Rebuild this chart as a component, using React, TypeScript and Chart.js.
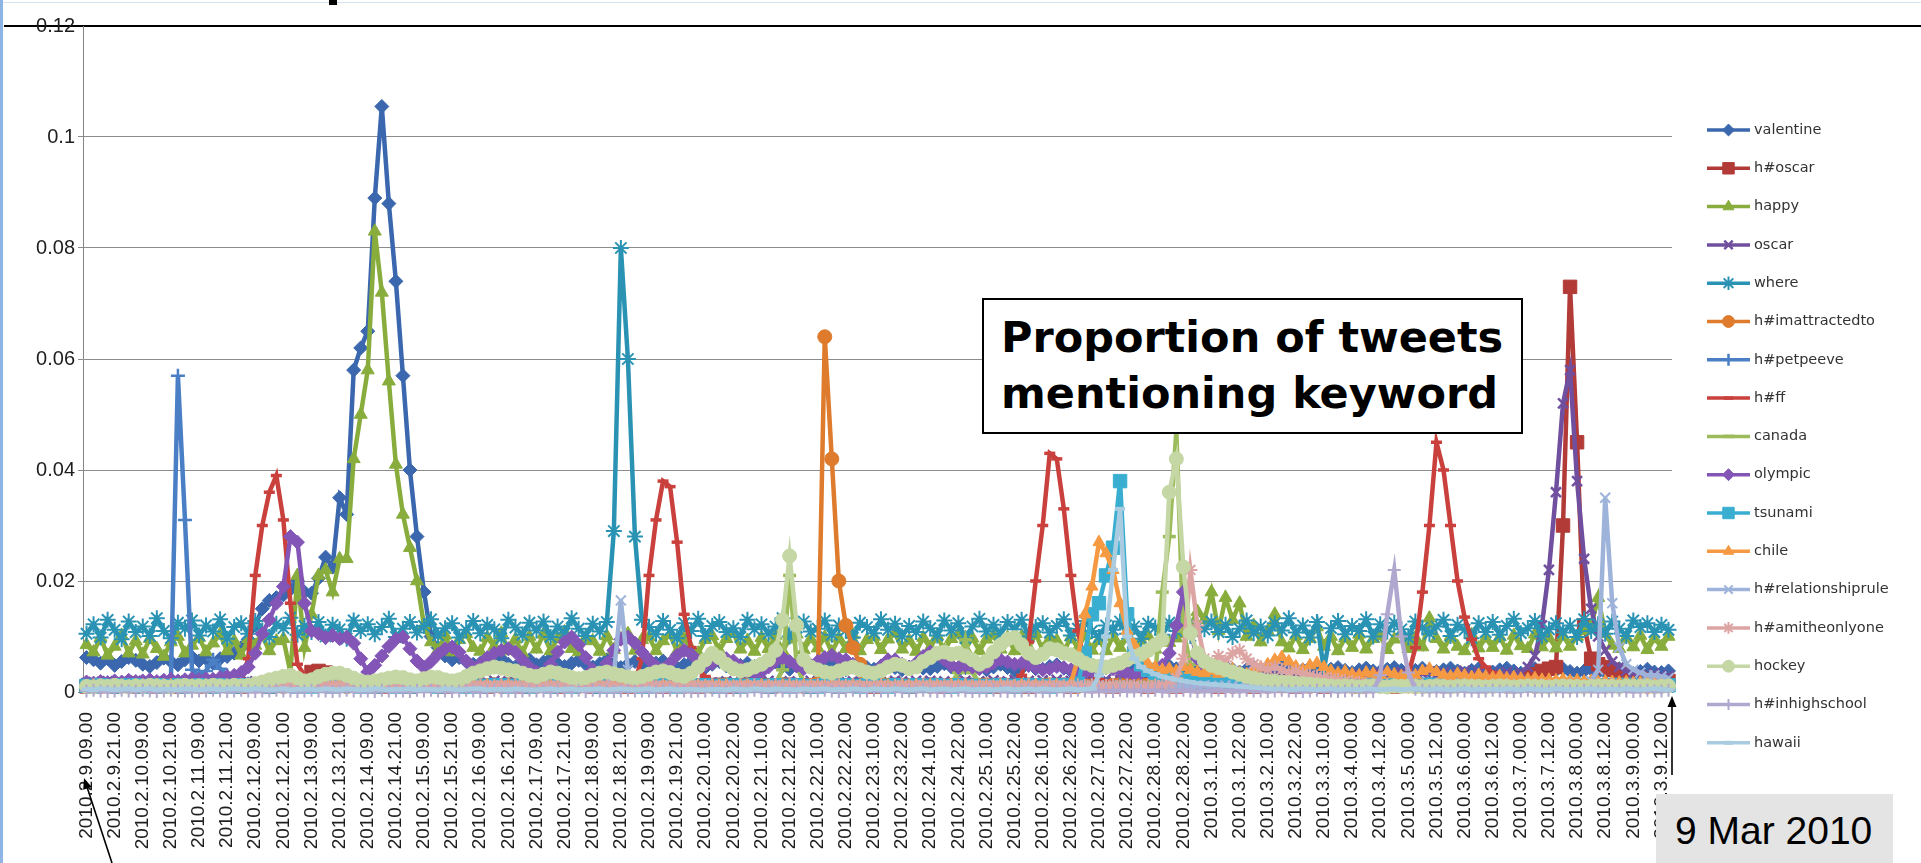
import React, { useEffect, useRef } from "react";
import { Chart, registerables } from "chart.js";
import { drawPoint } from "chart.js/helpers";

Chart.register(...registerables);

// ---------------- DATA ----------------
const TICK_LABELS = [
  "2010.2.9.09.00", "2010.2.9.21.00", "2010.2.10.09.00", "2010.2.10.21.00",
  "2010.2.11.09.00", "2010.2.11.21.00", "2010.2.12.09.00", "2010.2.12.21.00",
  "2010.2.13.09.00", "2010.2.13.21.00", "2010.2.14.09.00", "2010.2.14.21.00",
  "2010.2.15.09.00", "2010.2.15.21.00", "2010.2.16.09.00", "2010.2.16.21.00",
  "2010.2.17.09.00", "2010.2.17.21.00", "2010.2.18.09.00", "2010.2.18.21.00",
  "2010.2.19.09.00", "2010.2.19.21.00", "2010.2.20.10.00", "2010.2.20.22.00",
  "2010.2.21.10.00", "2010.2.21.22.00", "2010.2.22.10.00", "2010.2.22.22.00",
  "2010.2.23.10.00", "2010.2.23.22.00", "2010.2.24.10.00", "2010.2.24.22.00",
  "2010.2.25.10.00", "2010.2.25.22.00", "2010.2.26.10.00", "2010.2.26.22.00",
  "2010.2.27.10.00", "2010.2.27.22.00", "2010.2.28.10.00", "2010.2.28.22.00",
  "2010.3.1.10.00", "2010.3.1.22.00", "2010.3.2.10.00", "2010.3.2.22.00",
  "2010.3.3.10.00", "2010.3.4.00.00", "2010.3.4.12.00", "2010.3.5.00.00",
  "2010.3.5.12.00", "2010.3.6.00.00", "2010.3.6.12.00", "2010.3.7.00.00",
  "2010.3.7.12.00", "2010.3.8.00.00", "2010.3.8.12.00", "2010.3.9.00.00",
  "2010.3.9.12.00",
];
const POINTS_PER_TICK = 4; // one reading every 3 hours

const Y_MAX = 0.12;
const Y_STEP = 0.02;

const VALENTINE = [
  .0062,.0058,.0052,.0060,.0048,.0055,.0062,.0057,
  .0050,.0046,.0053,.0061,.0055,.0049,.0058,.0063,
  .0056,.0060,.0052,.0060,.0064,.0070,.0080,.0095,
  .0120,.0150,.0165,.0170,.0175,.0185,.0200,.0180,
  .0178,.0205,.0243,.0225,.0350,.0320,.0580,.0620,
  .0650,.0890,.1055,.0880,.0740,.0570,.0400,.0280,
  .0180,.0100,.0080,.0065,.0058,.0062,.0055,.0050,
  .0052,.0047,.0055,.0060,.0050,.0045,.0053,.0058,
  .0049,.0054,.0060,.0051,.0046,.0052,.0057,.0050,
  .0045,.0051,.0058,.0049,.0044,.0050,.0055,.0048,
  .0046,.0052,.0056,.0049,.0043,.0049,.0054,.0047,
  .0044,.0050,.0055,.0047,.0042,.0048,.0052,.0046,
  .0043,.0049,.0054,.0046,.0041,.0047,.0051,.0045,
  .0042,.0048,.0053,.0045,.0040,.0046,.0050,.0044,
  .0041,.0047,.0052,.0044,.0040,.0045,.0049,.0043,
  .0042,.0046,.0051,.0045,.0039,.0044,.0050,.0043,
  .0040,.0045,.0050,.0044,.0039,.0043,.0048,.0042,
  .0041,.0046,.0049,.0043,.0038,.0044,.0047,.0041,
  .0040,.0044,.0048,.0042,.0038,.0043,.0046,.0041,
  .0039,.0043,.0047,.0042,.0037,.0042,.0046,.0040,
  .0038,.0042,.0046,.0041,.0036,.0041,.0045,.0040,
  .0039,.0043,.0045,.0040,.0036,.0040,.0044,.0039,
  .0038,.0041,.0044,.0039,.0035,.0040,.0043,.0038,
  .0037,.0041,.0044,.0039,.0035,.0039,.0043,.0038,
  .0037,.0040,.0043,.0038,.0034,.0039,.0042,.0037,
  .0036,.0040,.0043,.0038,.0034,.0038,.0042,.0037,
  .0036,.0039,.0042,.0037,.0034,.0038,.0041,.0036,
  .0035,.0039,.0042,.0037,.0033,.0037,.0041,.0036,
  .0035,.0038,
];

const H_OSCAR = [
  .0010,.0012,.0011,.0013,.0010,.0012,.0011,.0010,
  .0011,.0013,.0010,.0012,.0011,.0010,.0012,.0011,
  .0012,.0010,.0011,.0013,.0012,.0011,.0010,.0012,
  .0011,.0012,.0010,.0011,.0013,.0012,.0014,.0020,
  .0036,.0038,.0035,.0018,.0012,.0011,.0013,.0012,
  .0011,.0012,.0010,.0013,.0011,.0012,.0010,.0011,
  .0012,.0011,.0013,.0010,.0012,.0011,.0012,.0013,
  .0011,.0010,.0012,.0011,.0013,.0012,.0010,.0011,
  .0012,.0013,.0011,.0010,.0012,.0011,.0013,.0012,
  .0010,.0011,.0012,.0013,.0011,.0010,.0012,.0011,
  .0013,.0012,.0010,.0011,.0012,.0013,.0011,.0010,
  .0011,.0012,.0013,.0011,.0010,.0012,.0011,.0013,
  .0012,.0010,.0011,.0012,.0013,.0011,.0012,.0010,
  .0011,.0013,.0012,.0010,.0011,.0012,.0013,.0011,
  .0010,.0012,.0011,.0013,.0012,.0010,.0011,.0012,
  .0013,.0011,.0010,.0012,.0011,.0013,.0012,.0011,
  .0012,.0010,.0013,.0011,.0012,.0011,.0010,.0012,
  .0011,.0012,.0011,.0013,.0010,.0012,.0013,.0011,
  .0012,.0011,.0010,.0012,.0013,.0011,.0012,.0010,
  .0013,.0012,.0011,.0010,.0012,.0013,.0011,.0012,
  .0011,.0010,.0012,.0013,.0011,.0012,.0010,.0011,
  .0012,.0013,.0011,.0012,.0010,.0011,.0013,.0012,
  .0010,.0012,.0013,.0011,.0012,.0010,.0011,.0013,
  .0012,.0011,.0010,.0012,.0011,.0013,.0012,.0011,
  .0013,.0012,.0011,.0013,.0012,.0011,.0012,.0013,
  .0014,.0016,.0018,.0020,.0024,.0028,.0032,.0038,
  .0042,.0045,.0300,.0730,.0450,.0120,.0060,.0050,
  .0045,.0040,.0034,.0030,.0027,.0024,.0022,.0021,
  .0020,.0020,
];

const HAPPY = [
  .0085,.0072,.0098,.0066,.0082,.0102,.0070,.0092,
  .0068,.0096,.0078,.0064,.0090,.0100,.0070,.0084,
  .0098,.0072,.0088,.0104,.0074,.0092,.0066,.0096,
  .0084,.0101,.0074,.0092,.0096,.0035,.0210,.0080,
  .0140,.0210,.0220,.0180,.0240,.0240,.0420,.0500,
  .0580,.0830,.0720,.0560,.0410,.0320,.0260,.0200,
  .0120,.0090,.0076,.0102,.0072,.0094,.0105,.0080,
  .0073,.0098,.0082,.0106,.0074,.0095,.0070,.0100,
  .0077,.0104,.0074,.0096,.0108,.0078,.0072,.0098,
  .0092,.0073,.0101,.0076,.0096,.0105,.0075,.0094,
  .0099,.0074,.0092,.0103,.0073,.0097,.0078,.0070,
  .0094,.0101,.0075,.0096,.0107,.0077,.0093,.0073,
  .0098,.0078,.0102,.0074,.0095,.0104,.0076,.0096,
  .0079,.0099,.0072,.0097,.0078,.0103,.0074,.0094,
  .0100,.0076,.0095,.0106,.0077,.0093,.0073,.0098,
  .0080,.0101,.0075,.0096,.0104,.0078,.0097,.0074,
  .0095,.0102,.0077,.0098,.0074,.0100,.0080,.0105,
  .0076,.0096,.0093,.0072,.0099,.0079,.0102,.0075,
  .0094,.0074,.0100,.0080,.0097,.0073,.0093,.0101,
  .0077,.0098,.0089,.0097,.0105,.0120,.0145,.0130,
  .0180,.0110,.0170,.0130,.0160,.0100,.0120,.0090,
  .0110,.0140,.0090,.0079,.0101,.0076,.0096,.0117,
  .0082,.0100,.0074,.0097,.0080,.0104,.0077,.0096,
  .0101,.0076,.0095,.0106,.0078,.0098,.0081,.0133,
  .0096,.0077,.0100,.0082,.0074,.0103,.0079,.0097,
  .0080,.0099,.0075,.0102,.0083,.0078,.0104,.0081,
  .0098,.0079,.0101,.0082,.0100,.0110,.0120,.0170,
  .0105,.0084,.0078,.0099,.0081,.0102,.0076,.0096,
  .0082,.0100,
];

const OSCAR = [
  .0016,.0018,.0015,.0019,.0017,.0016,.0018,.0020,
  .0017,.0015,.0019,.0018,.0016,.0020,.0017,.0015,
  .0018,.0016,.0020,.0017,.0019,.0015,.0018,.0016,
  .0019,.0017,.0015,.0018,.0020,.0016,.0017,.0019,
  .0016,.0019,.0017,.0015,.0018,.0020,.0016,.0018,
  .0020,.0016,.0018,.0019,.0015,.0017,.0019,.0016,
  .0017,.0020,.0016,.0018,.0017,.0015,.0019,.0018,
  .0015,.0018,.0020,.0016,.0019,.0018,.0016,.0017,
  .0019,.0016,.0017,.0020,.0016,.0018,.0015,.0019,
  .0018,.0015,.0019,.0017,.0020,.0016,.0018,.0017,
  .0016,.0019,.0018,.0015,.0017,.0020,.0017,.0016,
  .0020,.0017,.0016,.0019,.0018,.0016,.0020,.0018,
  .0017,.0020,.0018,.0016,.0019,.0017,.0015,.0020,
  .0019,.0016,.0020,.0018,.0016,.0019,.0018,.0017,
  .0016,.0018,.0017,.0020,.0019,.0016,.0020,.0018,
  .0020,.0017,.0019,.0016,.0018,.0020,.0017,.0019,
  .0018,.0021,.0017,.0019,.0022,.0018,.0020,.0017,
  .0021,.0019,.0022,.0018,.0020,.0023,.0019,.0021,
  .0020,.0023,.0019,.0022,.0024,.0020,.0022,.0025,
  .0022,.0025,.0021,.0024,.0026,.0022,.0025,.0023,
  .0026,.0022,.0025,.0028,.0024,.0027,.0023,.0026,
  .0028,.0024,.0027,.0030,.0025,.0029,.0026,.0024,
  .0022,.0026,.0030,.0024,.0028,.0032,.0026,.0030,
  .0034,.0028,.0032,.0036,.0030,.0026,.0033,.0037,
  .0031,.0035,.0029,.0034,.0038,.0032,.0036,.0030,
  .0034,.0030,.0036,.0032,.0035,.0045,.0065,.0120,
  .0220,.0360,.0520,.0580,.0380,.0240,.0150,.0100,
  .0075,.0055,.0045,.0038,.0034,.0032,.0030,.0033,
  .0030,.0029,
];

const WHERE = [
  .0105,.0122,.0098,.0130,.0112,.0095,.0127,.0108,
  .0118,.0101,.0133,.0110,.0097,.0125,.0114,.0129,
  .0102,.0120,.0109,.0131,.0096,.0117,.0124,.0105,
  .0128,.0111,.0099,.0123,.0115,.0134,.0103,.0119,
  .0108,.0126,.0100,.0121,.0113,.0096,.0129,.0110,
  .0122,.0104,.0117,.0132,.0099,.0114,.0126,.0107,
  .0119,.0131,.0102,.0115,.0124,.0098,.0112,.0128,
  .0106,.0121,.0113,.0097,.0130,.0116,.0103,.0125,
  .0111,.0127,.0099,.0118,.0106,.0133,.0114,.0101,
  .0123,.0109,.0126,.0290,.0800,.0600,.0280,.0130,
  .0117,.0104,.0128,.0112,.0097,.0124,.0110,.0132,
  .0101,.0119,.0126,.0108,.0115,.0099,.0130,.0113,
  .0122,.0105,.0118,.0133,.0100,.0116,.0127,.0109,
  .0114,.0129,.0103,.0120,.0111,.0098,.0125,.0117,
  .0106,.0131,.0112,.0123,.0100,.0119,.0108,.0127,
  .0115,.0102,.0129,.0111,.0124,.0097,.0118,.0132,
  .0109,.0121,.0104,.0126,.0113,.0130,.0100,.0117,
  .0124,.0107,.0119,.0131,.0102,.0114,.0128,.0110,
  .0099,.0120,.0112,.0127,.0105,.0118,.0096,.0123,
  .0116,.0103,.0125,.0110,.0130,.0101,.0119,.0113,
  .0127,.0108,.0121,.0099,.0114,.0129,.0106,.0118,
  .0102,.0124,.0111,.0133,.0107,.0120,.0098,.0126,
  .0040,.0115,.0128,.0104,.0119,.0110,.0131,.0100,
  .0122,.0109,.0125,.0113,.0098,.0127,.0116,.0105,
  .0118,.0130,.0101,.0121,.0112,.0097,.0124,.0108,
  .0126,.0103,.0119,.0132,.0106,.0115,.0128,.0100,
  .0113,.0124,.0107,.0120,.0099,.0131,.0110,.0122,
  .0105,.0127,.0114,.0101,.0129,.0117,.0124,.0108,
  .0121,.0112,
];

const IMATTRACTEDTO = [
  .0011,.0012,.0010,.0013,.0011,.0012,.0010,.0011,
  .0012,.0011,.0013,.0010,.0012,.0011,.0012,.0013,
  .0010,.0012,.0011,.0012,.0013,.0011,.0010,.0012,
  .0013,.0011,.0012,.0011,.0010,.0012,.0013,.0011,
  .0012,.0013,.0011,.0012,.0011,.0010,.0012,.0011,
  .0011,.0010,.0012,.0013,.0012,.0011,.0013,.0012,
  .0011,.0012,.0010,.0013,.0011,.0012,.0010,.0011,
  .0012,.0011,.0013,.0010,.0012,.0011,.0012,.0013,
  .0010,.0012,.0011,.0012,.0013,.0011,.0010,.0012,
  .0013,.0011,.0012,.0011,.0010,.0012,.0013,.0011,
  .0012,.0013,.0011,.0012,.0011,.0010,.0012,.0011,
  .0011,.0010,.0012,.0013,.0012,.0011,.0013,.0012,
  .0011,.0012,.0010,.0013,.0011,.0012,.0010,.0012,
  .0015,.0640,.0420,.0200,.0120,.0080,.0050,.0030,
  .0020,.0015,.0012,.0011,.0012,.0010,.0011,.0012,
  .0010,.0012,.0011,.0012,.0013,.0011,.0010,.0012,
  .0013,.0011,.0012,.0011,.0010,.0012,.0013,.0011,
  .0012,.0013,.0011,.0012,.0011,.0010,.0012,.0011,
  .0011,.0010,.0012,.0013,.0012,.0011,.0013,.0012,
  .0011,.0012,.0010,.0013,.0011,.0012,.0010,.0011,
  .0012,.0011,.0013,.0010,.0012,.0011,.0012,.0013,
  .0010,.0012,.0011,.0012,.0013,.0011,.0010,.0012,
  .0013,.0011,.0012,.0011,.0010,.0012,.0013,.0011,
  .0012,.0013,.0011,.0012,.0011,.0010,.0012,.0011,
  .0011,.0010,.0012,.0013,.0012,.0011,.0013,.0012,
  .0011,.0012,.0010,.0013,.0011,.0012,.0010,.0011,
  .0012,.0011,.0013,.0010,.0012,.0011,.0012,.0013,
  .0010,.0012,.0011,.0012,.0013,.0011,.0010,.0012,
  .0011,.0012,
];

const PETPEEVE = [
  .0010,.0011,.0012,.0010,.0011,.0013,.0012,.0011,
  .0012,.0011,.0013,.0012,.0020,.0570,.0310,.0040,
  .0030,.0038,.0058,.0042,.0030,.0022,.0018,.0015,
  .0013,.0011,.0012,.0011,.0010,.0012,.0013,.0011,
  .0012,.0013,.0011,.0012,.0011,.0010,.0012,.0011,
  .0011,.0010,.0012,.0013,.0012,.0011,.0013,.0012,
  .0011,.0012,.0010,.0013,.0011,.0012,.0010,.0011,
  .0012,.0011,.0013,.0010,.0012,.0011,.0012,.0013,
  .0010,.0012,.0011,.0012,.0013,.0011,.0010,.0012,
  .0013,.0011,.0012,.0011,.0010,.0012,.0013,.0011,
  .0012,.0013,.0011,.0012,.0011,.0010,.0012,.0011,
  .0011,.0010,.0012,.0013,.0012,.0011,.0013,.0012,
  .0011,.0012,.0010,.0013,.0011,.0012,.0010,.0011,
  .0012,.0011,.0013,.0010,.0012,.0011,.0012,.0013,
  .0010,.0012,.0011,.0012,.0013,.0011,.0010,.0012,
  .0013,.0011,.0012,.0011,.0010,.0012,.0013,.0011,
  .0012,.0013,.0011,.0012,.0011,.0010,.0012,.0011,
  .0011,.0010,.0012,.0013,.0012,.0011,.0013,.0012,
  .0011,.0012,.0010,.0013,.0011,.0012,.0010,.0011,
  .0012,.0011,.0013,.0010,.0012,.0011,.0012,.0013,
  .0010,.0012,.0011,.0012,.0013,.0011,.0010,.0012,
  .0013,.0011,.0012,.0011,.0010,.0012,.0013,.0011,
  .0012,.0013,.0011,.0012,.0011,.0010,.0012,.0011,
  .0011,.0010,.0012,.0013,.0012,.0011,.0013,.0012,
  .0011,.0012,.0010,.0013,.0011,.0012,.0010,.0011,
  .0012,.0011,.0013,.0010,.0012,.0011,.0012,.0013,
  .0010,.0012,.0011,.0012,.0013,.0011,.0010,.0012,
  .0013,.0011,.0012,.0011,.0010,.0012,.0013,.0011,
  .0011,.0012,
];

const H_FF = [
  .0013,.0012,.0014,.0013,.0012,.0014,.0013,.0012,
  .0014,.0013,.0012,.0014,.0013,.0012,.0014,.0013,
  .0012,.0014,.0013,.0012,.0014,.0013,.0020,.0060,
  .0210,.0300,.0360,.0390,.0310,.0160,.0050,.0030,
  .0022,.0018,.0015,.0014,.0013,.0012,.0014,.0013,
  .0012,.0014,.0013,.0012,.0014,.0013,.0012,.0014,
  .0013,.0012,.0014,.0013,.0012,.0014,.0013,.0012,
  .0014,.0013,.0012,.0014,.0013,.0012,.0014,.0013,
  .0012,.0014,.0013,.0012,.0014,.0013,.0012,.0014,
  .0013,.0012,.0014,.0013,.0012,.0014,.0020,.0060,
  .0210,.0310,.0380,.0370,.0270,.0140,.0080,.0040,
  .0028,.0020,.0016,.0014,.0013,.0012,.0014,.0013,
  .0012,.0014,.0013,.0012,.0014,.0013,.0012,.0014,
  .0013,.0012,.0014,.0013,.0012,.0014,.0013,.0012,
  .0014,.0013,.0012,.0014,.0013,.0012,.0014,.0013,
  .0012,.0014,.0013,.0012,.0014,.0013,.0012,.0014,
  .0013,.0012,.0014,.0013,.0012,.0030,.0090,.0200,
  .0300,.0430,.0420,.0330,.0210,.0110,.0050,.0030,
  .0022,.0018,.0015,.0014,.0013,.0012,.0014,.0013,
  .0012,.0014,.0013,.0012,.0014,.0013,.0012,.0014,
  .0013,.0012,.0014,.0013,.0012,.0014,.0013,.0012,
  .0014,.0013,.0012,.0014,.0013,.0012,.0014,.0013,
  .0012,.0014,.0013,.0012,.0014,.0013,.0012,.0014,
  .0013,.0012,.0014,.0013,.0030,.0080,.0180,.0300,
  .0450,.0400,.0300,.0200,.0135,.0095,.0060,.0045,
  .0035,.0030,.0025,.0022,.0020,.0018,.0017,.0016,
  .0015,.0014,.0013,.0014,.0013,.0012,.0014,.0013,
  .0012,.0014,.0013,.0012,.0014,.0013,.0012,.0014,
  .0013,.0012,
];

const CANADA = [
  .0013,.0014,.0012,.0015,.0013,.0014,.0016,.0013,
  .0014,.0012,.0015,.0013,.0014,.0016,.0013,.0015,
  .0012,.0014,.0013,.0015,.0014,.0016,.0013,.0014,
  .0015,.0013,.0014,.0016,.0013,.0015,.0014,.0012,
  .0014,.0016,.0013,.0015,.0014,.0012,.0015,.0013,
  .0016,.0014,.0013,.0015,.0012,.0014,.0016,.0013,
  .0013,.0015,.0014,.0012,.0016,.0013,.0015,.0014,
  .0015,.0013,.0016,.0014,.0013,.0015,.0012,.0014,
  .0014,.0012,.0015,.0013,.0014,.0016,.0013,.0015,
  .0013,.0015,.0014,.0016,.0012,.0014,.0015,.0013,
  .0016,.0014,.0013,.0015,.0014,.0012,.0016,.0014,
  .0012,.0015,.0016,.0013,.0015,.0014,.0013,.0015,
  .0014,.0015,.0016,.0040,.0210,.0050,.0016,.0015,
  .0013,.0016,.0014,.0015,.0012,.0014,.0016,.0013,
  .0015,.0013,.0014,.0016,.0015,.0013,.0014,.0012,
  .0015,.0014,.0016,.0015,.0035,.0094,.0035,.0016,
  .0014,.0016,.0013,.0015,.0014,.0016,.0013,.0015,
  .0016,.0013,.0015,.0014,.0012,.0015,.0016,.0014,
  .0013,.0015,.0014,.0016,.0013,.0014,.0015,.0016,
  .0030,.0180,.0280,.0470,.0110,.0050,.0025,.0018,
  .0015,.0013,.0014,.0016,.0013,.0015,.0014,.0012,
  .0014,.0016,.0013,.0015,.0012,.0014,.0016,.0013,
  .0013,.0015,.0014,.0012,.0016,.0013,.0015,.0014,
  .0015,.0013,.0016,.0014,.0013,.0015,.0012,.0014,
  .0014,.0012,.0015,.0013,.0014,.0016,.0013,.0015,
  .0013,.0015,.0014,.0016,.0012,.0014,.0015,.0013,
  .0016,.0014,.0013,.0015,.0014,.0012,.0016,.0014,
  .0012,.0015,.0016,.0013,.0015,.0014,.0013,.0015,
  .0014,.0013,
];

const OLYMPIC = [
  .0018,.0016,.0019,.0017,.0020,.0018,.0021,.0019,
  .0020,.0022,.0019,.0021,.0023,.0020,.0022,.0024,
  .0022,.0024,.0023,.0026,.0028,.0030,.0035,.0045,
  .0070,.0105,.0130,.0160,.0190,.0280,.0270,.0160,
  .0110,.0105,.0098,.0102,.0096,.0099,.0088,.0060,
  .0036,.0048,.0065,.0082,.0095,.0099,.0078,.0056,
  .0044,.0055,.0068,.0078,.0081,.0072,.0056,.0044,
  .0050,.0062,.0070,.0075,.0078,.0072,.0058,.0045,
  .0036,.0034,.0050,.0072,.0090,.0099,.0085,.0062,
  .0040,.0034,.0052,.0075,.0095,.0099,.0088,.0072,
  .0058,.0047,.0042,.0052,.0066,.0075,.0068,.0056,
  .0048,.0052,.0058,.0060,.0056,.0046,.0038,.0034,
  .0036,.0045,.0056,.0062,.0055,.0047,.0042,.0048,
  .0055,.0062,.0066,.0060,.0058,.0050,.0040,.0035,
  .0034,.0046,.0058,.0058,.0050,.0045,.0052,.0064,
  .0072,.0068,.0058,.0048,.0044,.0048,.0045,.0042,
  .0045,.0052,.0058,.0054,.0050,.0052,.0048,.0044,
  .0040,.0042,.0046,.0044,.0040,.0036,.0034,.0038,
  .0040,.0045,.0042,.0038,.0034,.0032,.0035,.0038,
  .0042,.0048,.0070,.0120,.0180,.0110,.0060,.0035,
  .0025,.0020,.0018,.0016,.0015,.0014,.0014,.0013,
  .0013,.0014,.0012,.0013,.0014,.0012,.0013,.0014,
  .0012,.0013,.0014,.0013,.0012,.0014,.0013,.0012,
  .0014,.0012,.0013,.0014,.0013,.0012,.0014,.0013,
  .0013,.0014,.0012,.0013,.0012,.0014,.0013,.0012,
  .0012,.0013,.0014,.0012,.0014,.0013,.0012,.0014,
  .0014,.0012,.0013,.0014,.0013,.0012,.0013,.0014,
  .0013,.0014,.0012,.0013,.0014,.0012,.0014,.0013,
  .0012,.0012,
];

const TSUNAMI = [
  .0011,.0010,.0012,.0011,.0010,.0012,.0011,.0012,
  .0010,.0011,.0012,.0010,.0011,.0012,.0010,.0011,
  .0012,.0011,.0010,.0012,.0011,.0010,.0012,.0011,
  .0011,.0012,.0010,.0011,.0012,.0011,.0010,.0012,
  .0010,.0011,.0012,.0010,.0012,.0011,.0012,.0010,
  .0012,.0010,.0011,.0012,.0010,.0011,.0010,.0012,
  .0011,.0012,.0010,.0011,.0011,.0012,.0010,.0011,
  .0010,.0011,.0012,.0012,.0010,.0011,.0012,.0010,
  .0012,.0011,.0010,.0011,.0012,.0010,.0011,.0012,
  .0011,.0010,.0012,.0010,.0011,.0012,.0011,.0010,
  .0010,.0012,.0011,.0012,.0010,.0011,.0012,.0011,
  .0012,.0011,.0010,.0011,.0012,.0010,.0011,.0012,
  .0011,.0010,.0012,.0011,.0010,.0012,.0011,.0010,
  .0010,.0012,.0011,.0010,.0012,.0011,.0010,.0012,
  .0012,.0011,.0010,.0012,.0011,.0010,.0012,.0011,
  .0011,.0012,.0011,.0010,.0012,.0011,.0010,.0011,
  .0010,.0011,.0012,.0011,.0010,.0012,.0011,.0012,
  .0011,.0010,.0012,.0011,.0012,.0015,.0070,.0140,
  .0160,.0210,.0260,.0380,.0140,.0070,.0050,.0040,
  .0035,.0030,.0028,.0025,.0023,.0021,.0020,.0019,
  .0018,.0017,.0016,.0016,.0015,.0015,.0014,.0014,
  .0013,.0014,.0013,.0012,.0013,.0014,.0013,.0012,
  .0013,.0012,.0014,.0013,.0012,.0013,.0012,.0013,
  .0012,.0013,.0012,.0013,.0014,.0012,.0013,.0012,
  .0013,.0012,.0013,.0012,.0013,.0012,.0014,.0013,
  .0012,.0013,.0012,.0014,.0012,.0013,.0012,.0013,
  .0013,.0012,.0013,.0012,.0013,.0012,.0013,.0012,
  .0012,.0013,.0012,.0013,.0012,.0013,.0012,.0012,
  .0013,.0012,
];

const CHILE = [
  .0010,.0012,.0011,.0010,.0012,.0011,.0010,.0012,
  .0011,.0010,.0012,.0011,.0012,.0010,.0011,.0012,
  .0010,.0011,.0012,.0010,.0011,.0012,.0011,.0010,
  .0012,.0010,.0011,.0012,.0010,.0011,.0012,.0011,
  .0011,.0012,.0010,.0011,.0012,.0011,.0010,.0012,
  .0010,.0011,.0012,.0010,.0011,.0010,.0012,.0011,
  .0012,.0010,.0011,.0012,.0011,.0012,.0010,.0011,
  .0011,.0012,.0010,.0011,.0012,.0010,.0011,.0012,
  .0010,.0012,.0011,.0010,.0011,.0012,.0010,.0011,
  .0012,.0011,.0010,.0012,.0010,.0011,.0012,.0010,
  .0011,.0010,.0012,.0011,.0012,.0010,.0011,.0012,
  .0010,.0012,.0011,.0012,.0010,.0011,.0012,.0010,
  .0012,.0011,.0010,.0012,.0011,.0010,.0012,.0011,
  .0011,.0010,.0012,.0011,.0010,.0012,.0011,.0010,
  .0010,.0012,.0011,.0010,.0012,.0011,.0012,.0010,
  .0012,.0011,.0010,.0012,.0011,.0012,.0010,.0011,
  .0011,.0010,.0012,.0010,.0011,.0012,.0011,.0012,
  .0010,.0011,.0012,.0010,.0015,.0060,.0140,.0190,
  .0270,.0250,.0220,.0160,.0110,.0085,.0065,.0050,
  .0045,.0040,.0042,.0038,.0045,.0040,.0036,.0034,
  .0038,.0033,.0036,.0041,.0035,.0032,.0039,.0044,
  .0050,.0058,.0063,.0055,.0046,.0040,.0048,.0052,
  .0045,.0038,.0034,.0037,.0032,.0030,.0035,.0033,
  .0031,.0036,.0032,.0029,.0034,.0030,.0038,.0042,
  .0036,.0031,.0028,.0033,.0030,.0027,.0031,.0028,
  .0026,.0029,.0025,.0027,.0024,.0023,.0025,.0022,
  .0022,.0021,.0023,.0020,.0021,.0019,.0020,.0018,
  .0019,.0018,.0017,.0018,.0016,.0017,.0016,.0016,
  .0015,.0016,
];

const RELATIONSHIPRULE = [
  .0011,.0010,.0012,.0011,.0012,.0010,.0011,.0012,
  .0010,.0012,.0011,.0010,.0011,.0012,.0010,.0011,
  .0012,.0011,.0010,.0012,.0010,.0011,.0012,.0010,
  .0011,.0012,.0010,.0011,.0012,.0010,.0012,.0011,
  .0010,.0011,.0012,.0010,.0011,.0012,.0011,.0010,
  .0012,.0010,.0011,.0012,.0010,.0011,.0012,.0011,
  .0011,.0012,.0010,.0011,.0012,.0011,.0010,.0012,
  .0010,.0011,.0012,.0010,.0011,.0010,.0012,.0011,
  .0012,.0010,.0011,.0012,.0010,.0012,.0011,.0010,
  .0011,.0010,.0012,.0030,.0165,.0040,.0012,.0011,
  .0010,.0012,.0011,.0010,.0012,.0011,.0010,.0012,
  .0011,.0012,.0010,.0011,.0012,.0010,.0011,.0012,
  .0012,.0010,.0011,.0012,.0010,.0011,.0012,.0010,
  .0010,.0011,.0012,.0010,.0011,.0012,.0011,.0010,
  .0011,.0012,.0010,.0011,.0012,.0010,.0012,.0011,
  .0012,.0011,.0010,.0012,.0011,.0010,.0011,.0012,
  .0010,.0012,.0011,.0010,.0012,.0011,.0012,.0010,
  .0011,.0010,.0012,.0011,.0010,.0012,.0011,.0012,
  .0012,.0011,.0010,.0012,.0011,.0012,.0010,.0011,
  .0010,.0012,.0011,.0010,.0012,.0010,.0011,.0012,
  .0011,.0010,.0012,.0011,.0010,.0011,.0012,.0010,
  .0012,.0011,.0010,.0012,.0011,.0012,.0010,.0011,
  .0010,.0012,.0011,.0010,.0012,.0011,.0010,.0012,
  .0011,.0012,.0010,.0011,.0010,.0012,.0011,.0010,
  .0012,.0010,.0011,.0012,.0011,.0010,.0012,.0011,
  .0010,.0011,.0012,.0010,.0012,.0011,.0010,.0012,
  .0011,.0012,.0010,.0012,.0011,.0013,.0020,.0040,
  .0350,.0160,.0080,.0050,.0040,.0035,.0030,.0030,
  .0028,.0025,
];

const AMITHEONLYONE = [
  .0010,.0011,.0012,.0010,.0011,.0012,.0011,.0010,
  .0012,.0010,.0011,.0012,.0010,.0011,.0012,.0011,
  .0011,.0012,.0010,.0011,.0012,.0010,.0011,.0012,
  .0010,.0011,.0012,.0011,.0010,.0012,.0011,.0010,
  .0012,.0010,.0011,.0012,.0011,.0010,.0012,.0011,
  .0011,.0012,.0010,.0011,.0010,.0012,.0011,.0012,
  .0010,.0011,.0012,.0010,.0012,.0011,.0010,.0011,
  .0012,.0010,.0011,.0012,.0011,.0012,.0010,.0011,
  .0011,.0012,.0010,.0011,.0012,.0010,.0011,.0012,
  .0010,.0011,.0012,.0011,.0010,.0012,.0011,.0010,
  .0012,.0010,.0011,.0012,.0011,.0010,.0012,.0011,
  .0011,.0012,.0010,.0011,.0010,.0012,.0011,.0012,
  .0010,.0011,.0012,.0010,.0012,.0011,.0010,.0011,
  .0012,.0010,.0011,.0012,.0011,.0012,.0010,.0011,
  .0011,.0012,.0010,.0011,.0012,.0010,.0011,.0012,
  .0010,.0011,.0012,.0011,.0010,.0012,.0011,.0010,
  .0012,.0010,.0011,.0012,.0011,.0010,.0012,.0011,
  .0011,.0012,.0010,.0011,.0010,.0012,.0011,.0012,
  .0010,.0011,.0012,.0010,.0012,.0011,.0010,.0011,
  .0012,.0013,.0015,.0025,.0060,.0220,.0120,.0060,
  .0050,.0065,.0055,.0070,.0075,.0060,.0050,.0045,
  .0040,.0045,.0040,.0035,.0038,.0032,.0030,.0028,
  .0026,.0024,.0022,.0020,.0018,.0016,.0015,.0014,
  .0012,.0013,.0012,.0011,.0012,.0013,.0012,.0011,
  .0013,.0012,.0011,.0012,.0013,.0012,.0011,.0012,
  .0012,.0011,.0013,.0012,.0011,.0012,.0013,.0012,
  .0011,.0012,.0012,.0013,.0012,.0011,.0012,.0013,
  .0012,.0013,.0011,.0012,.0013,.0012,.0011,.0012,
  .0012,.0011,
];

const HOCKEY = [
  .0010,.0009,.0011,.0010,.0012,.0010,.0009,.0011,
  .0010,.0012,.0011,.0010,.0009,.0011,.0012,.0010,
  .0011,.0010,.0012,.0011,.0010,.0012,.0011,.0012,
  .0015,.0018,.0022,.0025,.0028,.0030,.0025,.0020,
  .0022,.0028,.0032,.0034,.0034,.0030,.0025,.0020,
  .0018,.0020,.0022,.0025,.0027,.0026,.0022,.0020,
  .0024,.0027,.0026,.0022,.0020,.0022,.0028,.0034,
  .0038,.0042,.0045,.0043,.0040,.0038,.0034,.0030,
  .0028,.0032,.0036,.0034,.0030,.0026,.0024,.0026,
  .0030,.0034,.0036,.0033,.0030,.0027,.0025,.0028,
  .0032,.0036,.0038,.0035,.0030,.0028,.0034,.0045,
  .0058,.0070,.0062,.0050,.0042,.0038,.0040,.0045,
  .0050,.0058,.0075,.0130,.0245,.0120,.0058,.0045,
  .0040,.0036,.0034,.0038,.0042,.0045,.0040,.0036,
  .0034,.0038,.0045,.0050,.0048,.0042,.0045,.0055,
  .0062,.0070,.0072,.0068,.0070,.0065,.0058,.0050,
  .0056,.0072,.0085,.0095,.0098,.0085,.0070,.0062,
  .0068,.0078,.0076,.0070,.0067,.0060,.0052,.0048,
  .0046,.0045,.0048,.0052,.0058,.0064,.0068,.0075,
  .0085,.0094,.0360,.0420,.0225,.0106,.0070,.0055,
  .0048,.0044,.0040,.0036,.0032,.0028,.0025,.0022,
  .0020,.0019,.0018,.0017,.0016,.0015,.0014,.0013,
  .0012,.0011,.0010,.0011,.0010,.0009,.0010,.0011,
  .0010,.0009,.0011,.0010,.0011,.0010,.0009,.0010,
  .0011,.0010,.0009,.0010,.0011,.0010,.0010,.0009,
  .0010,.0011,.0010,.0009,.0010,.0011,.0010,.0010,
  .0009,.0010,.0011,.0010,.0010,.0009,.0010,.0011,
  .0010,.0010,.0009,.0011,.0010,.0010,.0011,.0009,
  .0010,.0011,
];

const INHIGHSCHOOL = [
  .0002,.0003,.0002,.0001,.0002,.0003,.0002,.0002,
  .0003,.0002,.0001,.0002,.0003,.0002,.0002,.0001,
  .0002,.0002,.0003,.0002,.0001,.0002,.0003,.0002,
  .0001,.0002,.0002,.0003,.0002,.0002,.0001,.0002,
  .0003,.0002,.0002,.0001,.0002,.0003,.0002,.0002,
  .0002,.0001,.0003,.0002,.0002,.0002,.0001,.0003,
  .0002,.0003,.0002,.0002,.0001,.0002,.0003,.0002,
  .0001,.0002,.0003,.0002,.0002,.0001,.0002,.0003,
  .0002,.0002,.0001,.0003,.0002,.0002,.0003,.0001,
  .0003,.0002,.0002,.0001,.0002,.0003,.0002,.0002,
  .0002,.0001,.0002,.0003,.0002,.0002,.0001,.0002,
  .0002,.0003,.0001,.0002,.0003,.0002,.0002,.0003,
  .0001,.0002,.0003,.0002,.0002,.0001,.0003,.0002,
  .0002,.0003,.0002,.0001,.0002,.0003,.0002,.0002,
  .0003,.0002,.0002,.0003,.0001,.0002,.0002,.0003,
  .0002,.0001,.0002,.0002,.0003,.0002,.0001,.0002,
  .0002,.0003,.0002,.0001,.0002,.0002,.0003,.0002,
  .0001,.0002,.0003,.0002,.0002,.0003,.0002,.0001,
  .0002,.0002,.0001,.0003,.0002,.0002,.0003,.0002,
  .0003,.0001,.0002,.0002,.0003,.0002,.0001,.0002,
  .0002,.0003,.0002,.0002,.0001,.0003,.0002,.0002,
  .0001,.0002,.0003,.0002,.0002,.0001,.0002,.0003,
  .0002,.0002,.0001,.0002,.0003,.0002,.0002,.0001,
  .0030,.0140,.0220,.0100,.0035,.0005,.0003,.0002,
  .0002,.0001,.0002,.0003,.0002,.0002,.0001,.0002,
  .0003,.0002,.0002,.0001,.0002,.0003,.0002,.0002,
  .0002,.0003,.0001,.0002,.0002,.0003,.0002,.0001,
  .0002,.0002,.0003,.0002,.0001,.0002,.0003,.0002,
  .0002,.0003,
];

const HAWAII = [
  .0005,.0004,.0006,.0005,.0004,.0005,.0006,.0004,
  .0005,.0006,.0004,.0005,.0005,.0004,.0006,.0005,
  .0004,.0005,.0006,.0004,.0005,.0006,.0005,.0004,
  .0006,.0005,.0004,.0005,.0006,.0004,.0005,.0005,
  .0005,.0004,.0006,.0005,.0004,.0006,.0005,.0004,
  .0004,.0006,.0005,.0004,.0005,.0005,.0006,.0004,
  .0005,.0005,.0004,.0006,.0005,.0004,.0005,.0006,
  .0006,.0004,.0005,.0005,.0004,.0006,.0005,.0004,
  .0004,.0005,.0006,.0004,.0005,.0006,.0004,.0005,
  .0005,.0006,.0004,.0005,.0006,.0005,.0004,.0005,
  .0006,.0004,.0005,.0006,.0004,.0005,.0005,.0004,
  .0004,.0005,.0005,.0004,.0006,.0005,.0004,.0006,
  .0005,.0004,.0006,.0005,.0005,.0004,.0006,.0005,
  .0005,.0006,.0004,.0005,.0004,.0006,.0005,.0004,
  .0006,.0005,.0004,.0006,.0005,.0004,.0005,.0006,
  .0004,.0005,.0006,.0004,.0005,.0006,.0004,.0005,
  .0005,.0004,.0005,.0006,.0004,.0005,.0006,.0004,
  .0006,.0005,.0004,.0005,.0006,.0004,.0005,.0006,
  .0030,.0100,.0220,.0330,.0100,.0060,.0045,.0038,
  .0032,.0028,.0025,.0022,.0020,.0018,.0016,.0015,
  .0014,.0013,.0012,.0011,.0010,.0009,.0008,.0007,
  .0006,.0005,.0006,.0004,.0005,.0006,.0005,.0004,
  .0005,.0006,.0004,.0005,.0005,.0004,.0006,.0005,
  .0004,.0005,.0006,.0004,.0005,.0006,.0005,.0004,
  .0006,.0005,.0004,.0005,.0006,.0004,.0005,.0005,
  .0005,.0004,.0006,.0005,.0004,.0006,.0005,.0004,
  .0004,.0006,.0005,.0004,.0005,.0005,.0006,.0004,
  .0005,.0005,.0004,.0006,.0005,.0004,.0005,.0006,
  .0005,.0004,
];

const SERIES_NAMES = [
  "valentine", "h#oscar", "happy", "oscar", "where", "h#imattractedto",
  "h#petpeeve", "h#ff", "canada", "olympic", "tsunami", "chile",
  "h#relationshiprule", "h#amitheonlyone", "hockey", "h#inhighschool", "hawaii",
];
const SERIES_VALUES = [
  VALENTINE, H_OSCAR, HAPPY, OSCAR, WHERE, IMATTRACTEDTO,
  PETPEEVE, H_FF, CANADA, OLYMPIC, TSUNAMI, CHILE,
  RELATIONSHIPRULE, AMITHEONLYONE, HOCKEY, INHIGHSCHOOL, HAWAII,
];

// ---------------- STYLE ----------------
const SERIES_COLORS = [
  "#3A67AD", "#B23A37", "#88AD3C", "#6F4F9E", "#2A93B4", "#DE7B2C",
  "#4A7FC5", "#C9403C", "#9CBB5A", "#8355B6", "#3AAED0", "#F59A42",
  "#9EB3DA", "#DCA4A2", "#C4D7A4", "#B0A8CE", "#A9CCE0",
];
const MARKER_STYLES = [
  "rectRot", "rect", "triangle", "crossRot", "star", "circle",
  "cross", "line", "line", "rectRot", "rect", "triangle",
  "crossRot", "star", "circle", "cross", "line",
];
const MARKER_RADII = [7, 9.5, 7.5, 7, 8, 7, 7, 5.5, 6.5, 7, 9.5, 7, 7, 7, 7, 6.5, 5];
const MARKER_BORDERS = [1, 1, 1, 2.5, 2, 1, 2.5, 3.5, 3.5, 1, 1, 1, 2, 2, 1, 2, 4];
const LINE_WIDTH = 4.5;
const LEGEND_MARKER_SCALE = 0.85;

const CANVAS_W = 1921;
const CANVAS_H = 863;
const PLOT_LEFT = 83;
const PLOT_RIGHT = 1672;
const PLOT_TOP = 26;
const PLOT_BOTTOM = 692;
const LEGEND_TOP = 130;
const LEGEND_STEP = 38.3;

const CATEGORIES = VALENTINE.map((_, i) =>
  i % POINTS_PER_TICK === 0 && TICK_LABELS[i / POINTS_PER_TICK] ? TICK_LABELS[i / POINTS_PER_TICK] : ""
);

const framePlugin = {
  id: "frame",
  beforeDraw(chart: any) {
    const ctx = chart.ctx;
    ctx.save();
    ctx.fillStyle = "#ffffff";
    ctx.fillRect(0, 0, CANVAS_W, CANVAS_H);
    ctx.fillStyle = "#8EB4E3";
    ctx.fillRect(0, 0, 3, CANVAS_H);
    ctx.fillStyle = "#D5E2F2";
    ctx.fillRect(3, 2, CANVAS_W - 3, 1);
    ctx.fillStyle = "#000000";
    ctx.fillRect(4, PLOT_TOP - 1, CANVAS_W - 4, 2);
    ctx.fillRect(329, 0, 8, 5);
    ctx.restore();
  },
};

function drawArrow(ctx: any, x1: number, y1: number, x2: number, y2: number) {
  const ang = Math.atan2(y2 - y1, x2 - x1);
  const len = 11;
  const half = 4.5;
  ctx.beginPath();
  ctx.moveTo(x1, y1);
  ctx.lineTo(x2 - Math.cos(ang) * len * 0.8, y2 - Math.sin(ang) * len * 0.8);
  ctx.stroke();
  ctx.beginPath();
  ctx.moveTo(x2, y2);
  ctx.lineTo(x2 - Math.cos(ang) * len - Math.sin(ang) * half, y2 - Math.sin(ang) * len + Math.cos(ang) * half);
  ctx.lineTo(x2 - Math.cos(ang) * len + Math.sin(ang) * half, y2 - Math.sin(ang) * len - Math.cos(ang) * half);
  ctx.closePath();
  ctx.fill();
}

const overlayPlugin = {
  id: "overlay",
  afterDraw(chart: any) {
    const ctx = chart.ctx;
    ctx.save();
    // legend
    SERIES_NAMES.forEach((name, i) => {
      const y = LEGEND_TOP + i * LEGEND_STEP;
      const color = SERIES_COLORS[i];
      ctx.strokeStyle = color;
      ctx.fillStyle = color;
      ctx.lineWidth = 3.5;
      ctx.beginPath();
      ctx.moveTo(1707, y);
      ctx.lineTo(1750, y);
      ctx.stroke();
      ctx.lineWidth = MARKER_BORDERS[i];
      drawPoint(
        ctx,
        { pointStyle: MARKER_STYLES[i], radius: MARKER_RADII[i] * LEGEND_MARKER_SCALE, rotation: 0, borderWidth: MARKER_BORDERS[i] },
        1728.5,
        y
      );
      ctx.fillStyle = "#333333";
      ctx.font = '14.5px "DejaVu Sans"';
      ctx.textAlign = "left";
      ctx.textBaseline = "middle";
      ctx.fillText(name, 1754, y);
    });
    // arrows
    ctx.strokeStyle = "#000";
    ctx.fillStyle = "#000";
    ctx.lineWidth = 1.6;
    drawArrow(ctx, 112, 863, 84, 778);
    drawArrow(ctx, PLOT_RIGHT, 775, PLOT_RIGHT, 696);
    ctx.restore();
  },
};

export default function App() {
  const canvasRef = useRef<HTMLCanvasElement | null>(null);

  useEffect(() => {
    if (!canvasRef.current) return;
    Chart.defaults.font.family = '"Liberation Sans", Arial, sans-serif';
    Chart.defaults.color = "#262626";

    const datasets = SERIES_NAMES.map((name, idx) => ({
      label: name,
      data: SERIES_VALUES[idx],
      borderColor: SERIES_COLORS[idx],
      backgroundColor: SERIES_COLORS[idx],
      pointBackgroundColor: SERIES_COLORS[idx],
      pointBorderColor: SERIES_COLORS[idx],
      pointStyle: MARKER_STYLES[idx],
      pointRadius: MARKER_RADII[idx],
      pointBorderWidth: MARKER_BORDERS[idx],
      pointHoverRadius: MARKER_RADII[idx],
      borderWidth: LINE_WIDTH,
      tension: 0,
      fill: false,
      clip: false as any,
      order: SERIES_NAMES.length - idx,
    }));

    const chart = new Chart(canvasRef.current, {
      type: "line",
      data: { labels: CATEGORIES, datasets },
      options: {
        responsive: false,
        animation: false,
        devicePixelRatio: 1,
        events: [],
        layout: {
          padding: { left: 0, right: CANVAS_W - PLOT_RIGHT, top: PLOT_TOP, bottom: 0 },
        },
        plugins: {
          legend: { display: false },
          tooltip: { enabled: false },
        },
        scales: {
          x: {
            type: "category",
            offset: true,
            grid: { display: false, drawTicks: false },
            border: { display: true, color: "#868686", width: 1 },
            ticks: {
              autoSkip: false,
              minRotation: 90,
              maxRotation: 90,
              padding: 20,
              color: "#1E1E1E",
              font: { family: '"Liberation Sans"', size: 19 },
              callback: (_v: any, i: number) => CATEGORIES[i],
            },
            afterFit: (s: any) => {
              s.height = CANVAS_H - PLOT_BOTTOM;
            },
          },
          y: {
            min: 0,
            max: Y_MAX,
            ticks: {
              stepSize: Y_STEP,
              padding: 3,
              color: "#1E1E1E",
              font: { family: '"Liberation Sans"', size: 20 },
              callback: (v: any) => String(parseFloat(Number(v).toFixed(2))),
            },
            grid: {
              color: (c: any) =>
                c.tick && Math.abs(c.tick.value - Y_MAX) < 1e-9 ? "rgba(0,0,0,0)" : "#8C8C8C",
              lineWidth: 1,
              tickLength: 5,
            },
            border: { display: true, color: "#868686", width: 1 },
            afterFit: (s: any) => {
              s.width = PLOT_LEFT;
            },
          },
        },
      },
      plugins: [framePlugin, overlayPlugin],
    } as any);

    return () => chart.destroy();
  }, []);

  return (
    <div style={{ position: "fixed", left: 0, top: 0, width: CANVAS_W, height: CANVAS_H, background: "#fff", overflow: "hidden" }}>
      <canvas
        ref={canvasRef}
        width={CANVAS_W}
        height={CANVAS_H}
        style={{ position: "absolute", left: 0, top: 0, width: CANVAS_W, height: CANVAS_H, display: "block" }}
      />
      <div
        style={{
          position: "absolute",
          left: 982,
          top: 298,
          width: 541,
          height: 136,
          boxSizing: "border-box",
          border: "2px solid #000",
          background: "#fff",
          padding: "9px 0 0 17px",
          fontFamily: '"DejaVu Sans", sans-serif',
          fontWeight: "bold",
          fontSize: 43,
          lineHeight: "56px",
          color: "#000",
          whiteSpace: "nowrap",
        }}
      >
        Proportion of tweets
        <br />
        mentioning keyword
      </div>
      <div
        style={{
          position: "absolute",
          left: 1656,
          top: 794,
          width: 237,
          height: 69,
          background: "#E4E4E4",
          boxSizing: "border-box",
          padding: "15px 0 0 19px",
          fontFamily: '"Liberation Sans", Arial, sans-serif',
          fontSize: 39,
          lineHeight: "44px",
          color: "#000",
          whiteSpace: "nowrap",
        }}
      >
        9 Mar 2010
      </div>
    </div>
  );
}
